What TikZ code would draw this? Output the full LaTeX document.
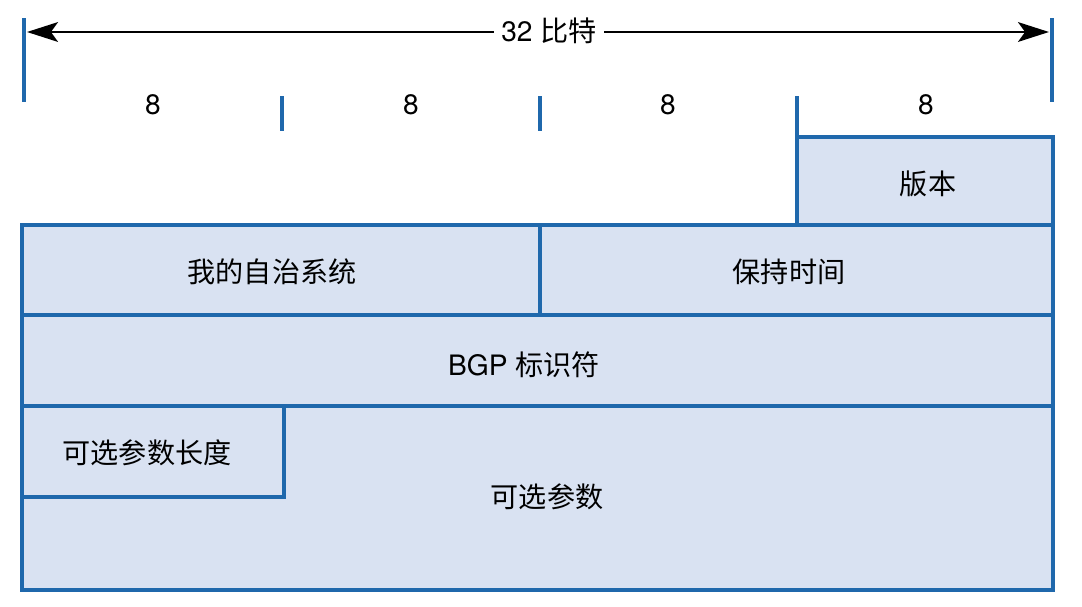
\documentclass[tikz,border=0pt]{standalone}
\usepackage{fontspec}
\setmainfont{TeX Gyre Heros}
\newfontfamily\cjk{Noto Sans CJK SC}
\usetikzlibrary{arrows.meta}

\definecolor{fieldblue}{RGB}{31,104,172}
\definecolor{fieldfill}{RGB}{217,226,242}

\tikzset{
  field/.style={draw=fieldblue, line width=2.2pt, fill=fieldfill},
  tick/.style={draw=fieldblue, line width=2.2pt},
  lbl/.style={font=\fontsize{20}{24}\selectfont, inner sep=2pt}
}

\begin{document}
\begin{tikzpicture}[x=0.025cm,y=-0.025cm]
        \useasboundingbox (0,0) rectangle (1082,606);

        % width ticks
        \draw[tick] (24,18) -- (24,102);
        \draw[tick] (1052,18) -- (1052,102);
        \draw[tick] (282,96) -- (282,131);
        \draw[tick] (540,96) -- (540,131);
        \draw[tick] (797,96) -- (797,137);

        \coordinate (leftend) at (27,32);
        \coordinate (rightend) at (1049,32);
        \draw[black, line width=2pt, {Stealth[length=22pt,width=14pt,inset=5pt]}-{Stealth[length=22pt,width=14pt,inset=5pt]}] (leftend) -- (rightend);
        \node[lbl, fill=white, inner sep=5pt] (total) at (549,31) {32 {\cjk 比特}};

        \node[lbl] (b1) at (153,105) {8};
        \node[lbl] (b2) at (411,105) {8};
        \node[lbl] (b3) at (668,105) {8};
        \node[lbl] (b4) at (926,105) {8};

        % fields
        \draw[field] (797,137) rectangle (1053,225);
        \draw[field] (22,225) rectangle (540,315);
        \draw[field] (540,225) rectangle (1053,315);
        \draw[field] (22,315) rectangle (1053,406);
        \draw[field] (22,406) rectangle (1053,590);
        \draw[field] (22,406) rectangle (284,497);

        \node[lbl] (version) at (928,184) {\cjk 版本};
        \node[lbl] (myas) at (272,272) {\cjk 我的自治系统};
        \node[lbl] (holdtime) at (789,272) {\cjk 保持时间};
        \node[lbl] (bgpid) at (524,365) {BGP {\cjk 标识符}};
        \node[lbl] (optlen) at (147,453) {\cjk 可选参数长度};
        \node[lbl] (optparam) at (547,497) {\cjk 可选参数};

\end{tikzpicture}
\end{document}
